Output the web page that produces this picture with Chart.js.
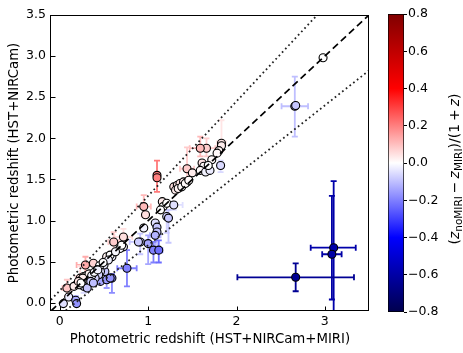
<!DOCTYPE html>
<html>
<head>
<meta charset="utf-8">
<script src="https://cdn.jsdelivr.net/npm/chart.js@4.4.0/dist/chart.umd.min.js"></script>
<style>
  html, body { margin: 0; padding: 0; background: #fff; }
  #wrap { position: relative; width: 463px; height: 353px; }
  #main { position: absolute; left: 0; top: 0; }
  #cbar { position: absolute; left: 380px; top: 0; }
</style>
</head>
<body>
<div id="wrap">
  <canvas id="main" width="463" height="353"></canvas>
  <canvas id="cbar" width="83" height="353"></canvas>
</div>
<script>
// photo-z with MIRI (x) vs without MIRI (y), colour = (z_noMIRI - z_MIRI)/(1+z)
const zMiri = [
  2.98, 2.66, 2.67, 3.10, 3.08, 2.67, 1.10, 1.10,
  1.83, 1.83, 1.80, 1.78, 1.72, 1.82, 1.66, 1.59, 1.44, 1.50,
  1.61, 1.63, 1.59, 1.65, 1.70, 1.68,
  1.29, 1.33, 1.36, 1.40, 1.44, 1.31, 1.34, 1.38, 1.42, 1.46,
  1.16, 1.17, 1.14, 1.21, 1.29, 1.21, 1.23, 0.95, 0.97, 0.95,
  1.08, 1.10, 1.10, 1.08, 1.00, 1.06, 1.12, 0.91, 0.89,
  0.72, 0.72, 0.68, 0.70, 0.61, 0.53, 0.59, 0.57, 0.76, 0.59,
  0.46, 0.53, 0.57, 0.48, 0.51, 0.50, 0.38, 0.29,
  0.19, 0.23, 0.27, 0.31, 0.35, 0.38, 0.42, 0.46, 0.25, 0.29,
  0.33, 0.37, 0.41, 0.44, 0.30, 0.34, 0.28, 0.32, 0.36, 0.40,
  0.27, 0.31, 0.22, 0.04, 0.10, 0.18, 0.19, 0.08, 0.16, 0.45, 0.42,
  0.33, 0.36, 0.39, 0.43, 0.26, 0.35, 0.38, 0.21, 0.24, 0.55, 0.49, 0.63
];
const zNoMiri = [
  2.98, 2.39, 2.40, 0.67, 0.59, 0.31, 1.55, 1.52,
  1.94, 1.91, 1.85, 1.82, 1.74, 1.67, 1.88, 1.88, 1.63, 1.58,
  1.70, 1.66, 1.61, 1.59, 1.61, 1.67,
  1.41, 1.43, 1.45, 1.47, 1.47, 1.37, 1.39, 1.41, 1.45, 1.49,
  1.23, 1.17, 1.13, 1.21, 1.19, 1.05, 1.03, 1.17, 1.07, 0.91,
  0.97, 0.92, 0.86, 0.82, 0.72, 0.64, 0.64, 0.74, 0.74,
  0.80, 0.68, 0.66, 0.70, 0.74, 0.56, 0.56, 0.58, 0.42, 0.30,
  0.26, 0.28, 0.30, 0.42, 0.38, 0.46, 0.48, 0.46,
  0.22, 0.30, 0.32, 0.30, 0.32, 0.34, 0.36, 0.38, 0.28, 0.28,
  0.30, 0.30, 0.33, 0.34, 0.33, 0.35, 0.25, 0.27, 0.28, 0.30,
  0.20, 0.18, 0.22, -0.01, 0.07, 0.03, -0.01, 0.18, 0.20, 0.45, 0.40,
  0.35, 0.33, 0.37, 0.40, 0.30, 0.26, 0.24, 0.26, 0.24, 0.52, 0.49, 0.62
];
const dzNorm = [
  0.00, -0.10, -0.09, -0.59, -0.60, -0.64, 0.21, 0.20,
  0.04, 0.03, 0.02, 0.01, 0.01, -0.06, 0.08, 0.11, 0.08, 0.03,
  0.04, 0.01, 0.01, -0.02, -0.03, 0.00,
  0.05, 0.04, 0.04, 0.03, 0.01, 0.03, 0.02, 0.01, 0.01, 0.01,
  0.03, 0.00, 0.00, 0.00, -0.05, -0.07, -0.09, 0.11, 0.05, -0.02,
  -0.05, -0.09, -0.10, -0.12, -0.14, -0.20, -0.23, -0.09, -0.08,
  0.05, -0.02, -0.01, 0.00, 0.08, 0.02, -0.02, 0.00, -0.20, -0.18,
  -0.14, -0.16, -0.17, -0.04, -0.09, -0.03, 0.07, 0.13,
  0.03, 0.06, 0.04, -0.01, -0.02, -0.03, -0.04, -0.05, 0.02, -0.01,
  -0.02, -0.05, -0.06, -0.07, 0.02, 0.01, -0.02, -0.04, -0.06, -0.07,
  -0.06, -0.09, 0.00, -0.05, -0.03, -0.13, -0.17, 0.09, 0.03, 0.00, -0.01,
  0.02, -0.02, -0.01, -0.02, 0.03, -0.07, -0.10, 0.04, 0.00, -0.02, 0.00, -0.01
];

// error bars (only where visible), index into the arrays above
const errIdx = [0, 1, 3, 4, 5, 6, 8, 13, 14, 15, 16, 38, 39, 40, 41, 45, 47, 48, 49, 50, 51, 53, 57, 61, 62, 64, 70, 72, 84, 91, 96, 98];
const xErrLo = [0.10, 0.15, 0.26, 0.11, 0.66, 0.02, 0.05, 0.04, 0.10, 0.12, 0.08, 0.08, 0, 0, 0.08, 0, 0.06, 0, 0, 0.04, 0.12, 0.10, 0.06, 0.11, 0, 0, 0.10, 0.05, 0, 0.05, 0, 0.05];
const xErrHi = [0.10, 0.15, 0.25, 0.11, 0.66, 0.02, 0.05, 0.04, 0.10, 0.08, 0.08, 0.10, 0, 0, 0.08, 0, 0.06, 0, 0, 0.04, 0.05, 0.10, 0.06, 0.11, 0, 0, 0.10, 0.05, 0, 0.05, 0, 0.05];
const yErrLo = [0.08, 0.37, 0.90, 0.55, 0.17, 0.20, 0.10, 0.08, 0.10, 0.10, 0.12, 0.06, 0.20, 0.30, 0.12, 0.25, 0.15, 0.25, 0.15, 0.15, 0.15, 0.10, 0.10, 0.22, 0.18, 0.10, 0.12, 0.08, 0.12, 0.08, 0.05, 0.10];
const yErrHi = [0.08, 0.36, 0.81, 0.71, 0.17, 0.18, 0.28, 0.06, 0.12, 0.14, 0.26, 0.04, 0.08, 0.10, 0.14, 0.06, 0.10, 0.10, 0.10, 0.12, 0.10, 0.10, 0.12, 0.22, 0.05, 0.05, 0.10, 0.15, 0.04, 0.05, 0.05, 0.10];

// reference lines: 1:1 and +-0.15(1+z)
const refX = [-0.1, 3.5];
const oneToOne = [-0.1, 3.5];
const upperLine = [0.035, 4.175];
const lowerLine = [-0.235, 2.825];

const xTicks = [0, 1, 2, 3];
const xTickLabels = ['0', '1', '2', '3'];
const yTicks = [0, 0.5, 1, 1.5, 2, 2.5, 3, 3.5];
const yTickLabels = ['0.0', '0.5', '1.0', '1.5', '2.0', '2.5', '3.0', '3.5'];
const cbMin = -0.8, cbMax = 0.8;
const cbTicks = [-0.8, -0.6, -0.4, -0.2, 0, 0.2, 0.4, 0.6, 0.8];
const cbTickLabels = ['\u22120.8', '\u22120.6', '\u22120.4', '\u22120.2', '0.0', '0.2', '0.4', '0.6', '0.8'];

const xTitle = 'Photometric redshift (HST+NIRCam+MIRI)';
const yTitle = 'Photometric redshift (HST+NIRCam)';
// colorbar label pieces: [text, kind]
const cbTitle = [['(', 'n'], ['z', 'i'], ['noMIRI', 's'], ['\u2212', 'o'], ['z', 'i'], ['MIRI', 's'], [')/(1', 'n'], ['+', 'o'], ['z', 'i'], [')', 'n']];

const FONT = "'DejaVu Sans', sans-serif";

// matplotlib "seismic"
function seismic(v) {
  let t = (v - cbMin) / (cbMax - cbMin);
  t = Math.max(0, Math.min(1, t));
  let r, g, b;
  if (t < 0.25) { r = 0; g = 0; b = 0.3 + 0.7 * t / 0.25; }
  else if (t < 0.5) { const s = (t - 0.25) / 0.25; r = s; g = s; b = 1; }
  else if (t < 0.75) { const s = (t - 0.5) / 0.25; r = 1; g = 1 - s; b = 1 - s; }
  else { const s = (t - 0.75) / 0.25; r = 1 - 0.5 * s; g = 0; b = 0; }
  return `rgb(${Math.round(r * 255)},${Math.round(g * 255)},${Math.round(b * 255)})`;
}

// --- plugins ---
const errorBars = {
  id: 'errorBars',
  beforeDatasetsDraw(chart) {
    const { ctx, chartArea: a, scales: { x, y } } = chart;
    const cap = 3;
    ctx.save();
    ctx.beginPath();
    ctx.rect(a.left, a.top, a.right - a.left, a.bottom - a.top);
    ctx.clip();
    ctx.lineWidth = 1.8;
    errIdx.forEach((i, k) => {
      const cx = x.getPixelForValue(zMiri[i]);
      const cy = y.getPixelForValue(zNoMiri[i]);
      ctx.strokeStyle = seismic(dzNorm[i]);
      ctx.beginPath();
      if (xErrLo[k] || xErrHi[k]) {
        const x0 = x.getPixelForValue(zMiri[i] - xErrLo[k]);
        const x1 = x.getPixelForValue(zMiri[i] + xErrHi[k]);
        ctx.moveTo(x0, cy); ctx.lineTo(x1, cy);
        ctx.moveTo(x0, cy - cap); ctx.lineTo(x0, cy + cap);
        ctx.moveTo(x1, cy - cap); ctx.lineTo(x1, cy + cap);
      }
      if (yErrLo[k] || yErrHi[k]) {
        const y0 = y.getPixelForValue(zNoMiri[i] - yErrLo[k]);
        const y1 = y.getPixelForValue(zNoMiri[i] + yErrHi[k]);
        ctx.moveTo(cx, y0); ctx.lineTo(cx, y1);
        ctx.moveTo(cx - cap, y0); ctx.lineTo(cx + cap, y0);
        ctx.moveTo(cx - cap, y1); ctx.lineTo(cx + cap, y1);
      }
      ctx.stroke();
    });
    ctx.restore();
  }
};

const frameTicks = {
  id: 'frameTicks',
  afterDraw(chart) {
    const { ctx, chartArea: a, scales: { x, y } } = chart;
    ctx.save();
    ctx.strokeStyle = '#000';
    ctx.lineWidth = 1;
    ctx.strokeRect(Math.round(a.left) - 0.5, Math.round(a.top) + 0.5, Math.round(a.right - a.left), Math.round(a.bottom - a.top) - 1);
    ctx.beginPath();
    x.ticks.forEach(t => {
      const px = Math.round(x.getPixelForValue(t.value)) + 0.5;
      ctx.moveTo(px, a.bottom); ctx.lineTo(px, a.bottom - 4.5);
    });
    y.ticks.forEach(t => {
      const py = Math.round(y.getPixelForValue(t.value)) + 0.5;
      ctx.moveTo(a.left, py); ctx.lineTo(a.left + 4.5, py);
    });
    ctx.stroke();
    ctx.restore();
  }
};

// rotated colorbar label with subscripts (mathtext-like)
const cbLabel = {
  id: 'cbLabel',
  afterDraw(chart) {
    const { ctx, chartArea: a } = chart;
    const fonts = { n: `14px ${FONT}`, o: `14px ${FONT}`, i: `oblique 14px ${FONT}`, s: `10.5px ${FONT}` };
    const gap = 3;
    const adv = (t, k) => { ctx.font = fonts[k]; return ctx.measureText(t).width + (k === 'o' ? 2 * gap : 0); };
    const total = cbTitle.reduce((s, [t, k]) => s + adv(t, k), 0);
    ctx.save();
    ctx.translate(75, (a.top + a.bottom) / 2 + 6);
    ctx.rotate(-Math.PI / 2);
    ctx.fillStyle = '#000';
    ctx.textBaseline = 'middle';
    ctx.textAlign = 'left';
    let xx = -total / 2;
    cbTitle.forEach(([t, k]) => {
      const w = adv(t, k);
      ctx.fillText(t, xx + (k === 'o' ? gap : 0), k === 's' ? 4 : 0);
      xx += w;
    });
    ctx.restore();
  }
};

// --- main scatter ---
const points = zMiri.map((v, i) => ({ x: v, y: zNoMiri[i] }));
const pointColors = dzNorm.map(seismic);
const lineData = arr => refX.map((v, i) => ({ x: v, y: arr[i] }));

new Chart(document.getElementById('main'), {
  type: 'scatter',
  data: {
    datasets: [
      {
        data: lineData(oneToOne), type: 'line', showLine: true, pointRadius: 0,
        borderColor: '#000', borderWidth: 1.7, borderDash: [7, 4], fill: false, order: 1
      },
      {
        data: lineData(upperLine), type: 'line', showLine: true, pointRadius: 0,
        borderColor: '#222', borderWidth: 1.8, borderDash: [1.7, 3], fill: false, order: 1
      },
      {
        data: lineData(lowerLine), type: 'line', showLine: true, pointRadius: 0,
        borderColor: '#222', borderWidth: 1.8, borderDash: [1.7, 3], fill: false, order: 1
      },
      {
        data: points, pointRadius: 4, pointBorderWidth: 1.1, pointBorderColor: '#000',
        pointBackgroundColor: pointColors, order: 3
      }
    ]
  },
  options: {
    responsive: false,
    animation: false,
    layout: { padding: { top: 15, right: 94, bottom: 0, left: 0 } },
    plugins: { legend: { display: false }, tooltip: { enabled: false } },
    scales: {
      x: {
        type: 'linear', min: -0.1, max: 3.5,
        afterBuildTicks: s => { s.ticks = xTicks.map(v => ({ value: v })); },
        afterFit: s => { s.height = 42; },
        grid: { display: false, drawTicks: false }, border: { display: false },
        ticks: { color: '#000', font: { family: FONT, size: 12.5 }, padding: 3, maxRotation: 0, callback: (v, i) => xTickLabels[i] },
        title: { display: true, text: xTitle, color: '#000', font: { family: FONT, size: 13.3 }, padding: { top: 0, bottom: 5 } }
      },
      y: {
        type: 'linear', min: -0.1, max: 3.5,
        afterBuildTicks: s => { s.ticks = yTicks.map(v => ({ value: v })); },
        afterFit: s => { s.width = 51; },
        grid: { display: false, drawTicks: false }, border: { display: false },
        ticks: { color: '#000', font: { family: FONT, size: 12.5 }, padding: 5, callback: (v, i) => yTickLabels[i] },
        title: { display: true, text: yTitle, color: '#000', font: { family: FONT, size: 13.3 }, padding: { top: 7, bottom: 0 } }
      }
    }
  },
  plugins: [errorBars, frameTicks]
});

// --- colorbar ---
function cbGradient(chart) {
  const { ctx, chartArea, scales } = chart;
  if (!chartArea) return '#fff';
  const y = scales.y;
  const g = ctx.createLinearGradient(0, y.getPixelForValue(cbMin), 0, y.getPixelForValue(cbMax));
  [0, 0.25, 0.5, 0.75, 1].forEach(t => g.addColorStop(t, seismic(cbMin + t * (cbMax - cbMin))));
  return g;
}

new Chart(document.getElementById('cbar'), {
  type: 'bar',
  data: {
    labels: [''],
    datasets: [{
      data: [[cbMin, cbMax]],
      backgroundColor: c => cbGradient(c.chart),
      borderColor: '#000', borderWidth: 1, borderSkipped: false,
      barPercentage: 1, categoryPercentage: 1
    }]
  },
  options: {
    responsive: false,
    animation: false,
    layout: { padding: { top: 14, left: 8, right: 0, bottom: 41 } },
    plugins: { legend: { display: false }, tooltip: { enabled: false } },
    scales: {
      x: { display: false },
      y: {
        position: 'right', min: cbMin, max: cbMax,
        afterBuildTicks: s => { s.ticks = cbTicks.map(v => ({ value: v })); },
        afterFit: s => { s.width = 59; },
        grid: { drawOnChartArea: false, drawTicks: true, tickLength: 3, color: '#000', lineWidth: 1 },
        border: { display: false },
        ticks: { color: '#000', font: { family: FONT, size: 12.5 }, padding: 1, callback: (v, i) => cbTickLabels[i] }
      }
    }
  },
  plugins: [cbLabel]
});
</script>
</body>
</html>
